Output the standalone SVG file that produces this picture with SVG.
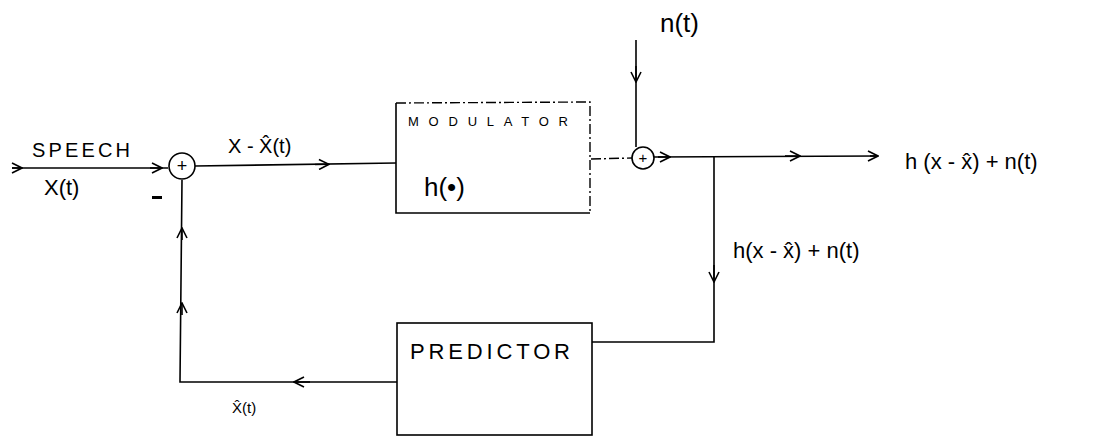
<svg xmlns="http://www.w3.org/2000/svg" width="1115" height="437" viewBox="0 0 1115 437">
<defs>
<marker id="v" viewBox="0 0 12 12" refX="11" refY="6" markerWidth="12" markerHeight="12" markerUnits="userSpaceOnUse" orient="auto">
<path d="M1 1 L11 6 L1 11" fill="none" stroke="#000" stroke-width="1.6"/>
</marker>
</defs>
<style>
.ln{fill:none;stroke:#000;stroke-width:1.6}
.dash{fill:none;stroke:#000;stroke-width:1.4;stroke-dasharray:10 3 2 3}
.t{font-family:"Liberation Sans",Arial,sans-serif;fill:#000}
.sm{font-size:13px}
.md{font-size:20px}
.lg{font-size:26px}
</style>
<rect width="1115" height="437" fill="#fff"/>
<g id="connectors">
<path class="ln" d="M12 168 L168 168"/>
<path class="ln" d="M12 168 L22 168" marker-end="url(#v)"/>
<path class="ln" d="M150 168 L162 168" marker-end="url(#v)"/>
<path class="ln" d="M195 166 L396 163"/>
<path class="ln" d="M315 164.5 L329 164.3" marker-end="url(#v)"/>
<path class="dash" d="M591 159 L632 158"/>
<path class="ln" d="M636 40 L636 147"/>
<path class="ln" d="M636 66 L636 82" marker-end="url(#v)"/>
<path class="ln" d="M654 157 L878 156"/>
<path class="ln" d="M658 157 L670 157" marker-end="url(#v)"/>
<path class="ln" d="M785 156 L800 156" marker-end="url(#v)"/>
<path class="ln" d="M870 156 L878 156" marker-end="url(#v)"/>
<path class="ln" d="M714 156 L714 342 L592 342"/>
<path class="ln" d="M714 265 L714 282" marker-end="url(#v)"/>
<path class="ln" d="M397 382 L180 382 L182 180"/>
<path class="ln" d="M310 382 L294 382" marker-end="url(#v)"/>
<path class="ln" d="M182 315 L182 303" marker-end="url(#v)"/>
<path class="ln" d="M182 240 L182 228" marker-end="url(#v)"/>
</g>
<g id="sum1">
<ellipse class="ln" cx="182" cy="166" rx="13" ry="13"/>
<text class="t" x="182" y="172" text-anchor="middle" font-size="18">+</text>
<rect x="152" y="196" width="10" height="3" fill="#000"/>
</g>
<g id="modulator">
<path class="ln" d="M396 103 L396 213 L590 213"/>
<path class="dash" d="M396 103 L590 102 L590 213"/>
<text class="t sm" x="408" y="126" textLength="160" lengthAdjust="spacing">MODULATOR</text>
<text class="t lg" x="424" y="196">h(•)</text>
</g>
<g id="sum2">
<ellipse class="ln" cx="643" cy="158" rx="11" ry="11"/>
<text class="t" x="643" y="163" text-anchor="middle" font-size="15">+</text>
</g>
<g id="predictor">
<rect class="ln" x="397" y="323" width="195" height="112"/>
<text class="t" x="410" y="359" font-size="22" textLength="160" lengthAdjust="spacing">PREDICTOR</text>
</g>
<g id="labels">
<text class="t md" x="32" y="157" textLength="98" lengthAdjust="spacing">SPEECH</text>
<text class="t" x="44" y="195" font-size="22">X(t)</text>
<text class="t md" x="228" y="153">X - X̂(t)</text>
<text class="t lg" x="660" y="32">n(t)</text>
<text class="t" x="905" y="169" font-size="22">h (x - x̂) + n(t)</text>
<text class="t" x="733" y="258" font-size="22">h(x - x̂) + n(t)</text>
<text class="t" x="232" y="413" font-size="15">X̂(t)</text>
</g>
</svg>
